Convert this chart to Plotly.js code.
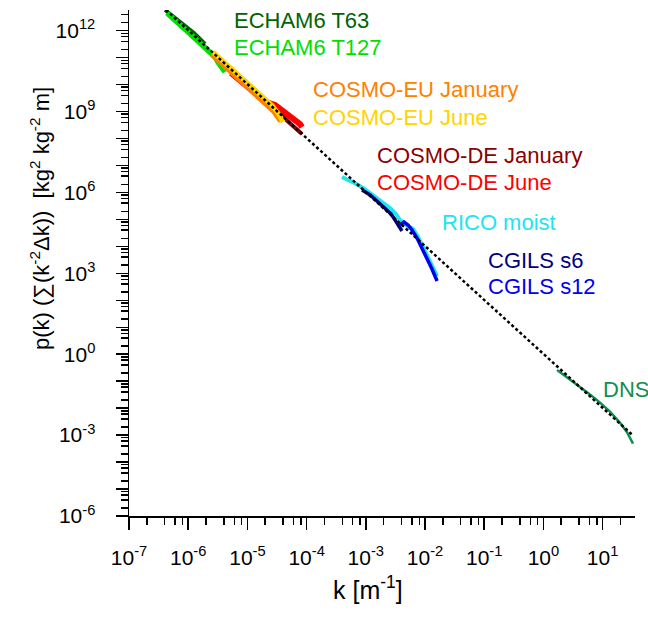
<!DOCTYPE html>
<html>
<head>
<meta charset="utf-8">
<script src="https://cdn.plot.ly/plotly-3.0.1.min.js"></script>
<style>html,body{margin:0;padding:0;background:#fff;}#chart{width:648px;height:617px;}</style>
</head>
<body>
<div id="chart"></div>
<script>
// ---- data (k in m^-1, p(k) in kg^2 kg^-2 m) ----
const refK = [4.2e-7, 31];
const refP = [5.9e12, 1.07e-3];

const t63K = [4.06e-7, 4.93e-7, 6.22e-7, 7.85e-7, 9.93e-7, 1.25e-6, 1.58e-6, 1.92e-6];
const t63P = [5.86e12, 4.16e12, 2.72e12, 1.93e12, 1.26e12, 8.22e11, 4.92e11, 3.21e11];

const t127K = [4.39e-7, 5.53e-7, 6.47e-7, 7.26e-7, 8.17e-7, 9.55e-7, 1.16e-6, 1.41e-6, 1.71e-6, 2.08e-6, 2.52e-6, 2.84e-6, 3.18e-6, 3.58e-6, 3.87e-6, 4.19e-6];
const t127P = [4.54e12, 2.72e12, 2.10e12, 1.49e12, 1.31e12, 9.75e11, 6.64e11, 4.15e11, 2.95e11, 1.92e11, 1.37e11, 1.06e11, 6.90e10, 4.91e10, 3.48e10, 2.94e10];

const deJunK = [5.28e-6, 6.41e-6, 9.10e-6, 1.40e-5, 2.06e-5, 2.92e-5, 4.31e-5, 5.89e-5, 7.75e-5, 8.35e-5];
const deJunP = [2.70e10, 1.92e10, 1.05e10, 4.49e9, 2.26e9, 1.75e9, 9.64e8, 5.78e8, 3.46e8, 2.68e8];

const deJanK = [5.50e-6, 1.11e-5, 2.23e-5, 3.99e-5, 5.89e-5, 8.35e-5];
const deJanP = [2.94e10, 8.17e9, 2.08e9, 6.29e8, 2.92e8, 1.47e8];

const euJanK = [2.52e-6, 4.36e-6, 7.50e-6, 1.20e-5, 1.91e-5, 2.81e-5, 3.70e-5];
const euJanP = [1.37e11, 4.51e10, 1.55e10, 6.05e9, 2.37e9, 1.05e9, 4.48e8];

const euJunK = [2.62e-6, 4.19e-6, 6.93e-6, 1.11e-5, 1.77e-5, 2.61e-5, 3.29e-5, 3.70e-5, 3.99e-5];
const euJunP = [1.62e11, 6.34e10, 2.37e10, 9.27e9, 3.62e9, 1.68e9, 8.85e8, 5.31e8, 4.11e8];

const ricoK = [3.96e-4, 4.46e-4, 5.00e-4, 6.08e-4, 7.10e-4, 8.97e-4, 1.18e-3, 1.55e-3, 1.95e-3, 2.56e-3, 3.24e-3, 3.79e-3, 5.16e-3, 6.27e-3, 7.62e-3, 9.25e-3, 1.12e-2, 1.36e-2, 1.60e-2];
const ricoP = [3.74e6, 3.15e6, 2.90e6, 2.44e6, 2.06e6, 1.46e6, 9.55e5, 6.23e5, 4.07e5, 2.65e5, 1.59e5, 9.52e4, 5.70e4, 4.41e4, 2.23e4, 9.48e3, 4.04e3, 1.72e3, 7.96e2];

const s6K = [8.63e-4, 1.18e-3, 1.61e-3, 2.11e-3, 2.67e-3, 3.24e-3, 3.79e-3, 4.08e-3];
const s6P = [1.23e6, 8.05e5, 4.43e5, 2.65e5, 1.59e5, 8.32e4, 4.81e4, 3.72e4];

const s12K = [3.79e-3, 4.41e-3, 5.16e-3, 6.02e-3, 7.33e-3, 8.89e-3, 1.08e-2, 1.31e-2, 1.60e-2];
const s12P = [6.21e4, 8.04e4, 6.21e4, 4.05e4, 2.05e4, 8.71e3, 3.70e3, 1.45e3, 5.19e2];

const dnsK = [1.70, 1.91, 2.81, 4.15, 6.12, 9.04, 13.3, 19.7, 25.8, 32.6];
const dnsP = [0.260, 0.216, 0.1175, 0.0641, 0.0321, 0.0161, 7.40e-3, 2.86e-3, 1.28e-3, 4.81e-4];

const xTickVals = [1e-7, 1e-6, 1e-5, 1e-4, 1e-3, 1e-2, 1e-1, 1e0, 1e1];
const xTickText = ['10<sup>-7</sup>', '10<sup>-6</sup>', '10<sup>-5</sup>', '10<sup>-4</sup>', '10<sup>-3</sup>', '10<sup>-2</sup>', '10<sup>-1</sup>', '10<sup>0</sup>', '10<sup>1</sup>'];
const yTickVals = [1e-6, 1e-5, 1e-4, 1e-3, 1e-2, 1e-1, 1e0, 1e1, 1e2, 1e3, 1e4, 1e5, 1e6, 1e7, 1e8, 1e9, 1e10, 1e11, 1e12];
const yTickText = ['10<sup>-6</sup>', '', '', '10<sup>-3</sup>', '', '', '10<sup>0</sup>', '', '', '10<sup>3</sup>', '', '', '10<sup>6</sup>', '', '', '10<sup>9</sup>', '', '', '10<sup>12</sup>'];
const minorMult = [2, 4, 6, 8];

const labels = ['ECHAM6 T63', 'ECHAM6 T127', 'COSMO-EU January', 'COSMO-EU June', 'COSMO-DE January', 'COSMO-DE June', 'RICO moist', 'CGILS s6', 'CGILS s12', 'DNS'];

// ---- styling ----
const FONT = 'Liberation Sans, Arial, Helvetica, sans-serif';
const col = {
  t63: '#006400', t127: '#00e000', euJan: '#ff8000', euJun: '#ffd400',
  deJan: '#8b0000', deJun: '#ff0000', rico: '#20e4f2', s6: '#000080', s12: '#0000ee', dns: '#109050'
};

function minorVals(majors) {
  const out = [];
  majors.forEach(function (m) { minorMult.forEach(function (f) { out.push(m * f); }); });
  return out;
}
const xMinor = minorVals([1e-8].concat(xTickVals));
const yMinor = minorVals([1e-7].concat(yTickVals));

function line(x, y, c, w, dash) {
  const ln = {color: c, width: w};
  if (dash) ln.dash = dash;
  return {x: x, y: y, type: 'scatter', mode: 'lines', line: ln, hoverinfo: 'skip', showlegend: false};
}

const traces = [
  line(t63K, t63P, col.t63, 4),
  line(t127K, t127P, col.t127, 5.5),
  line(deJunK, deJunP, col.deJun, 6),
  line(deJanK, deJanP, col.deJan, 4),
  line(euJanK, euJanP, col.euJan, 6),
  line(euJunK, euJunP, col.euJun, 5),
  line(ricoK, ricoP, col.rico, 4),
  line(s6K, s6P, col.s6, 3.5),
  line(s12K, s12P, col.s12, 3.5),
  line(dnsK, dnsP, col.dns, 2.5),
  line(refK, refP, '#000000', 2.5, '3px,2.5px')
];

// pixel -> paper helpers (plot area: x 129..635, y 10..516)
const L = 129, R = 13, T = 10, B = 101, W = 648, H = 617;
const PW = W - L - R, PH = H - T - B;
function px(x) { return (x - L) / PW; }
function py(y) { return (H - B - y) / PH; }

const labelPos = [
  [232, 21, col.t63], [232, 47, col.t127], [311, 90, col.euJan], [311, 117, col.euJun],
  [375, 155, col.deJan], [375, 182, col.deJun], [440, 222, col.rico], [486, 260, col.s6],
  [486, 286, col.s12], [601, 389, col.dns]
];

const annotations = labels.map(function (t, i) {
  return {text: t, xref: 'paper', yref: 'paper', x: px(labelPos[i][0]), y: py(labelPos[i][1]),
    xanchor: 'left', yanchor: 'middle', showarrow: false,
    font: {family: FONT, size: 22, color: labelPos[i][2]}};
});
annotations.push({text: 'k [m<sup>-1</sup>]', xref: 'paper', yref: 'paper', x: px(368), y: py(588),
  xanchor: 'center', yanchor: 'middle', showarrow: false, font: {family: FONT, size: 25, color: '#000'}});
annotations.push({text: 'p(k) (\u2211(k<sup>-2</sup>\u0394k))&nbsp;&nbsp;[kg<sup>2</sup> kg<sup>-2</sup> m]', xref: 'paper', yref: 'paper',
  x: px(40), y: py(219), xanchor: 'center', yanchor: 'middle', textangle: -90, showarrow: false,
  font: {family: FONT, size: 22, color: '#000'}});

const axisCommon = {
  type: 'log', showgrid: false, zeroline: false, showline: true, linecolor: '#000', linewidth: 1.5,
  ticks: 'outside', ticklen: 12, tickwidth: 1.5, tickcolor: '#000', mirror: false,
  tickmode: 'array', tickfont: {family: FONT, size: 21, color: '#000'}
};

const layout = {
  width: W, height: H, margin: {l: L, r: R, t: T, b: B, pad: 0},
  paper_bgcolor: '#fff', plot_bgcolor: '#fff', showlegend: false,
  xaxis: Object.assign({}, axisCommon, {
    range: [-7, 1.547], tickvals: xTickVals, ticktext: xTickText, ticklabelstandoff: 10,
    minor: {tickmode: 'array', tickvals: xMinor, ticks: 'outside', ticklen: 7, tickwidth: 1.5, tickcolor: '#000', showgrid: false}
  }),
  yaxis: Object.assign({}, axisCommon, {
    range: [-6, 12.768], tickvals: yTickVals, ticktext: yTickText, ticklabelstandoff: 16,
    minor: {tickmode: 'array', tickvals: yMinor, ticks: 'outside', ticklen: 7, tickwidth: 1.5, tickcolor: '#000', showgrid: false}
  }),
  annotations: annotations
};

Plotly.newPlot('chart', traces, layout, {displayModeBar: false, staticPlot: true});
</script>
</body>
</html>
